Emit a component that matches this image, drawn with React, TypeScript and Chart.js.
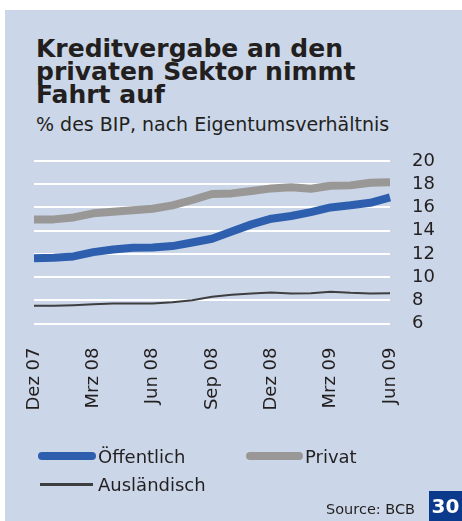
import React, { useEffect, useRef } from "react";
import { Chart, registerables } from "chart.js";

Chart.register(...registerables);

const months = [
  "Dez 07", "Jan 08", "Feb 08", "Mrz 08", "Apr 08", "Mai 08", "Jun 08",
  "Jul 08", "Aug 08", "Sep 08", "Okt 08", "Nov 08", "Dez 08", "Jan 09",
  "Feb 09", "Mrz 09", "Apr 09", "Mai 09", "Jun 09",
];
const tickEvery = 3;

const oeffentlich = [
  11.63, 11.66, 11.78, 12.15, 12.38, 12.52, 12.55, 12.67, 12.98, 13.3,
  13.93, 14.54, 15.03, 15.26, 15.6, 16.0, 16.18, 16.4, 16.87,
];
const privat = [
  14.97, 14.97, 15.14, 15.49, 15.63, 15.75, 15.89, 16.18, 16.64, 17.16,
  17.21, 17.41, 17.64, 17.73, 17.61, 17.87, 17.9, 18.13, 18.16,
];
const auslaendisch = [
  7.52, 7.52, 7.58, 7.66, 7.72, 7.72, 7.72, 7.84, 8.01, 8.3,
  8.47, 8.59, 8.67, 8.59, 8.61, 8.73, 8.64, 8.59, 8.61,
];

const yMin = 6;
const yMax = 20;
const yStep = 2;

const seriesNames = ["Öffentlich", "Privat", "Ausländisch"];
const BLUE = "#2e5fae";
const GRAY = "#9a9896";
const DARK = "#3e3d40";
const BG = "#cbd7e8";
const TEXT = "#231f20";

export default function App() {
  const ref = useRef<HTMLCanvasElement | null>(null);

  useEffect(() => {
    document.body.style.margin = "0";
    const canvas = ref.current;
    if (!canvas) return;
    const chart = new Chart(canvas, {
      type: "line",
      data: {
        labels: months,
        datasets: [
          {
            label: seriesNames[1],
            data: privat,
            borderColor: GRAY,
            borderWidth: 8,
            pointRadius: 0,
            tension: 0,
            borderJoinStyle: "round",
          },
          {
            label: seriesNames[0],
            data: oeffentlich,
            borderColor: BLUE,
            borderWidth: 8,
            pointRadius: 0,
            tension: 0,
            borderJoinStyle: "round",
          },
          {
            label: seriesNames[2],
            data: auslaendisch,
            borderColor: DARK,
            borderWidth: 2,
            pointRadius: 0,
            tension: 0,
          },
        ],
      },
      options: {
        animation: false,
        responsive: false,
        devicePixelRatio: 1,
        events: [],
        layout: { padding: { left: 34, top: 161, right: 0, bottom: 0 } },
        plugins: {
          legend: { display: false },
          title: { display: false },
          tooltip: { enabled: false },
        },
        scales: {
          x: {
            type: "category",
            offset: false,
            grid: { display: false, drawTicks: false },
            border: { display: false },
            ticks: {
              autoSkip: false,
              minRotation: 90,
              maxRotation: 90,
              padding: 24,
              color: TEXT,
              font: { family: "'DejaVu Sans'", size: 18 },
              callback: (_v: any, i: number) => (i % tickEvery === 0 ? months[i] : ""),
            },
            afterFit: (s: any) => {
              s.height = 197.5;
            },
          },
          y: {
            position: "right",
            min: yMin,
            max: yMax,
            grid: { color: "#ffffff", lineWidth: 2, drawTicks: false },
            border: { display: false },
            ticks: {
              stepSize: yStep,
              autoSkip: false,
              padding: 22,
              color: TEXT,
              font: { family: "'DejaVu Sans'", size: 18 },
            },
            afterFit: (s: any) => {
              s.width = 72;
            },
          },
        },
      },
    });
    return () => chart.destroy();
  }, []);

  const text: React.CSSProperties = {
    position: "absolute",
    color: TEXT,
    whiteSpace: "nowrap",
  };

  return (
    <div style={{ position: "fixed", left: 0, top: 0, width: 462, height: 521, background: "#ffffff", overflow: "hidden" }}>
      <div style={{ position: "absolute", left: 5, top: 10, width: 457, height: 511, background: BG }} />
      <div
        style={{
          ...text,
          left: 36,
          top: 36.5,
          fontFamily: "'DejaVu Sans'",
          fontWeight: 700,
          fontSize: 25,
          lineHeight: "23px",
          whiteSpace: "normal",
          width: 400,
        }}
      >
        Kreditvergabe an den
        <br />
        privaten Sektor nimmt
        <br />
        Fahrt auf
      </div>
      <div style={{ ...text, left: 36, top: 113, fontFamily: "'DejaVu Sans'", fontSize: 19, lineHeight: "normal" }}>
        % des BIP, nach Eigentumsverhältnis
      </div>
      <canvas ref={ref} width={462} height={521} style={{ position: "absolute", left: 0, top: 0, width: 462, height: 521 }} />
      {/* legend */}
      <div style={{ position: "absolute", left: 38, top: 451.5, width: 58, height: 8, borderRadius: 4, background: BLUE }} />
      <div style={{ ...text, left: 98, top: 446, fontFamily: "'DejaVu Sans'", fontSize: 18, lineHeight: "normal" }}>
        {seriesNames[0]}
      </div>
      <div style={{ position: "absolute", left: 245.5, top: 451.5, width: 57, height: 8, borderRadius: 4, background: GRAY }} />
      <div style={{ ...text, left: 305, top: 446, fontFamily: "'DejaVu Sans'", fontSize: 18, lineHeight: "normal" }}>
        {seriesNames[1]}
      </div>
      <div style={{ position: "absolute", left: 40, top: 483, width: 53, height: 2.5, background: DARK }} />
      <div style={{ ...text, left: 98, top: 473.5, fontFamily: "'DejaVu Sans'", fontSize: 18, lineHeight: "normal" }}>
        {seriesNames[2]}
      </div>
      {/* source & page number */}
      <div style={{ ...text, left: 326, top: 501, fontFamily: "'DejaVu Sans'", fontSize: 14.5, lineHeight: "normal" }}>
        Source: BCB
      </div>
      <div
        style={{
          position: "absolute",
          left: 429,
          top: 491,
          width: 33,
          height: 30,
          background: "#0b3a8d",
          color: "#ffffff",
          fontFamily: "'DejaVu Sans'",
          fontWeight: 700,
          fontSize: 20,
          lineHeight: "30px",
          textAlign: "center",
        }}
      >
        30
      </div>
    </div>
  );
}
